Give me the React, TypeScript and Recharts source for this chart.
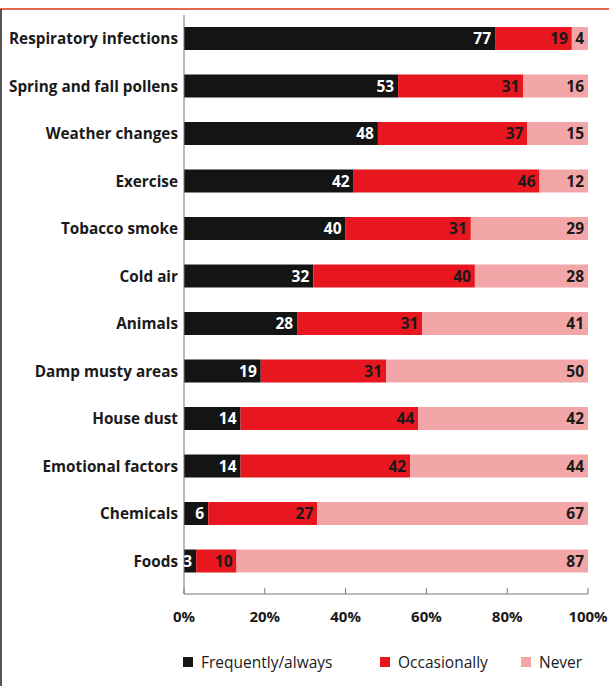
import React from "react";
import { BarChart, Bar, XAxis, YAxis, LabelList, Legend } from "recharts";

const categories = [
  "Respiratory infections",
  "Spring and fall pollens",
  "Weather changes",
  "Exercise",
  "Tobacco smoke",
  "Cold air",
  "Animals",
  "Damp musty areas",
  "House dust",
  "Emotional factors",
  "Chemicals",
  "Foods",
];
const frequently = [77, 53, 48, 42, 40, 32, 28, 19, 14, 14, 6, 3];
const occasionally = [19, 31, 37, 46, 31, 40, 31, 31, 44, 42, 27, 10];
const never = [4, 16, 15, 12, 29, 28, 41, 50, 42, 44, 67, 87];
const xTicks = [0, 20, 40, 60, 80, 100];
const seriesNames = ["Frequently/always", "Occasionally", "Never"];
const seriesColors = ["#141414", "#e8161e", "#f2a6a8"];

const data = categories.map((c, i) => ({
  name: c,
  frequently: frequently[i],
  occasionally: occasionally[i],
  never: never[i],
}));

const FONT = "'Open Sans', 'Noto Sans', sans-serif";

const XTick = (props: any) => {
  const { x, y, payload } = props;
  return (
    <g>
      <line x1={x} x2={x} y1={y - 6} y2={y} stroke="#777" strokeWidth={1} />
      <text
        x={x}
        y={y + 28}
        textAnchor="middle"
        fontFamily={FONT}
        fontWeight={700}
        fontSize={15}
        fill="#1a1a1a"
      >
        {payload.value}%
      </text>
    </g>
  );
};

const legendLefts = [183, 380, 521];

const LegendContent = () => (
  <div style={{ position: "relative", width: 609, height: 22 }}>
    {seriesNames.map((n, i) => (
      <div
        key={n}
        style={{
          position: "absolute",
          left: legendLefts[i],
          top: 0,
          display: "flex",
          alignItems: "center",
          fontFamily: FONT,
          fontSize: 15.5,
          color: "#1a1a1a",
          whiteSpace: "nowrap",
        }}
      >
        <span
          style={{
            display: "inline-block",
            width: 10,
            height: 10,
            background: seriesColors[i],
            marginRight: 8,
          }}
        />
        {n}
      </div>
    ))}
  </div>
);

export default function App() {
  return (
    <div
      style={{
        position: "absolute",
        left: 0,
        top: 0,
        width: 609,
        height: 686,
        background: "#fff",
      }}
    >
      <div
        style={{
          position: "absolute",
          left: 0,
          top: 8,
          width: 609,
          height: 2,
          background: "#e46a4e",
        }}
      />
      <div
        style={{
          position: "absolute",
          left: 0,
          top: 9,
          width: 2,
          height: 677,
          background: "#555",
        }}
      />
      <BarChart
        width={609}
        height={686}
        data={data}
        layout="vertical"
        barSize={23}
        margin={{ top: 15, right: 21, bottom: 20, left: 0 }}
      >
        <XAxis
          type="number"
          domain={[0, 100]}
          ticks={xTicks}
          tickSize={0}
          tickMargin={0}
          tickLine={false}
          axisLine={{ stroke: "#777" }}
          tick={<XTick />}
          height={30}
          interval={0}
        />
        <YAxis
          type="category"
          dataKey="name"
          width={184}
          tickLine={false}
          tickSize={0}
          tickMargin={6}
          axisLine={{ stroke: "#777" }}
          padding={{ top: 0, bottom: 9 }}
          interval={0}
          tick={{
            fontFamily: FONT,
            fontWeight: 700,
            fontSize: 15.3,
            fill: "#1a1a1a",
          }}
        />
        <Legend
          verticalAlign="bottom"
          height={42}
          wrapperStyle={{ top: 651, bottom: "auto", left: 0, width: 609 }}
          content={<LegendContent />}
        />
        <Bar
          dataKey="frequently"
          stackId="a"
          fill={seriesColors[0]}
          isAnimationActive={false}
        >
          <LabelList
            dataKey="frequently"
            position="insideRight"
            offset={4}
            fill="#fff"
            fontFamily={FONT}
            fontWeight={700}
            fontSize={15.5}
          />
        </Bar>
        <Bar
          dataKey="occasionally"
          stackId="a"
          fill={seriesColors[1]}
          isAnimationActive={false}
        >
          <LabelList
            dataKey="occasionally"
            position="insideRight"
            offset={4}
            fill="#1a1a1a"
            fontFamily={FONT}
            fontWeight={700}
            fontSize={15.5}
          />
        </Bar>
        <Bar
          dataKey="never"
          stackId="a"
          fill={seriesColors[2]}
          isAnimationActive={false}
        >
          <LabelList
            dataKey="never"
            position="insideRight"
            offset={4}
            fill="#1a1a1a"
            fontFamily={FONT}
            fontWeight={700}
            fontSize={15.5}
          />
        </Bar>
      </BarChart>
    </div>
  );
}
